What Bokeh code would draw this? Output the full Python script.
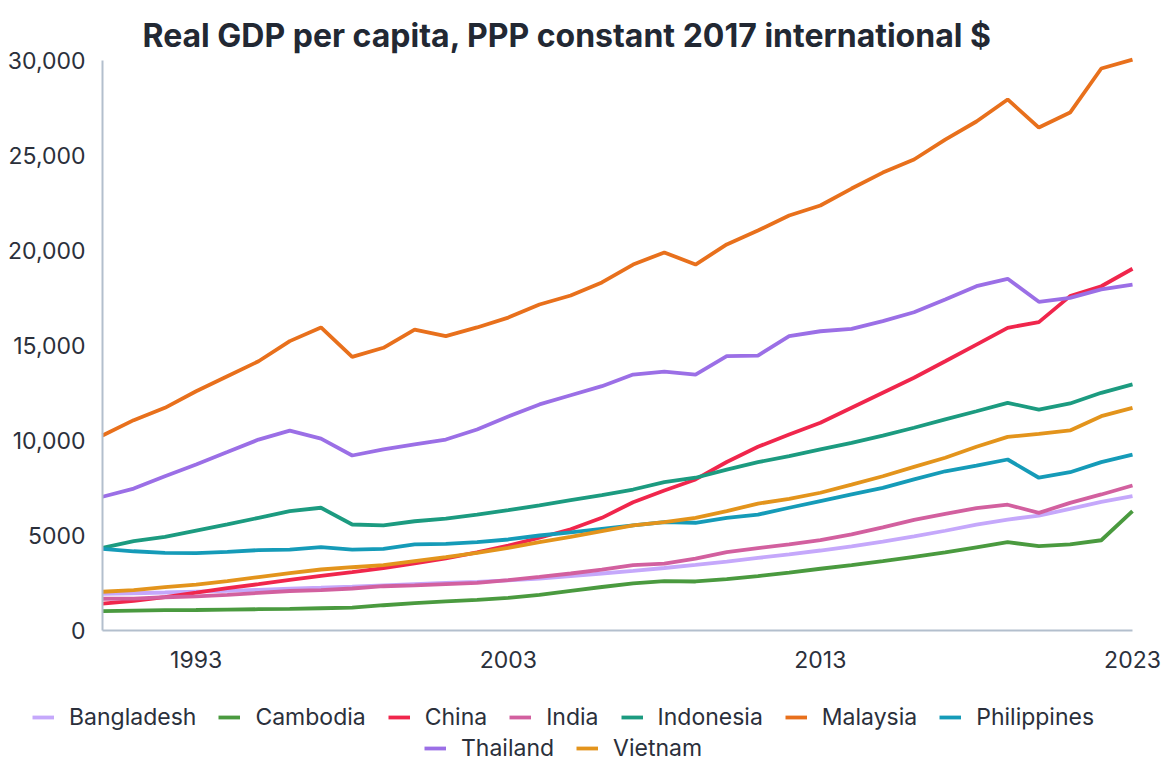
from bokeh.plotting import figure
from bokeh.models import Legend, LegendItem, FixedTicker, Range1d, Label
from bokeh.embed import file_html
from bokeh.resources import INLINE

years = [1990, 1991, 1992, 1993, 1994, 1995, 1996, 1997, 1998, 1999,
         2000, 2001, 2002, 2003, 2004, 2005, 2006, 2007, 2008, 2009,
         2010, 2011, 2012, 2013, 2014, 2015, 2016, 2017, 2018, 2019,
         2020, 2021, 2022, 2023]

bangladesh = [1930, 1960, 2000, 2050, 2090, 2140, 2200, 2250, 2310, 2380,
              2440, 2500, 2560, 2640, 2730, 2860, 3000, 3140, 3290, 3450,
              3620, 3820, 4010, 4210, 4430, 4680, 4960, 5250, 5570, 5840,
              6050, 6400, 6770, 7070]
cambodia = [1020, 1050, 1070, 1080, 1100, 1120, 1140, 1170, 1200, 1330,
            1440, 1530, 1610, 1720, 1870, 2090, 2290, 2480, 2600, 2580,
            2700, 2860, 3050, 3250, 3440, 3650, 3880, 4110, 4380, 4650,
            4440, 4530, 4750, 6280]
china = [1420, 1560, 1760, 1990, 2230, 2440, 2660, 2880, 3070, 3280,
         3530, 3800, 4110, 4470, 4880, 5330, 5930, 6750, 7370, 7950,
         8870, 9670, 10320, 10930, 11720, 12510, 13300, 14170, 15050, 15930,
         16230, 17600, 18120, 19040]
india = [1670, 1680, 1750, 1800, 1880, 1980, 2080, 2120, 2210, 2330,
         2370, 2440, 2510, 2650, 2820, 3000, 3200, 3440, 3520, 3780,
         4130, 4340, 4530, 4760, 5060, 5430, 5820, 6140, 6440, 6620,
         6190, 6720, 7160, 7630]
indonesia = [4350, 4700, 4930, 5260, 5580, 5930, 6280, 6460, 5580, 5530,
             5750, 5890, 6100, 6330, 6580, 6860, 7120, 7420, 7810, 8040,
             8470, 8860, 9180, 9530, 9880, 10260, 10670, 11110, 11540, 11980,
             11630, 11950, 12510, 12950]
malaysia = [10260, 11070, 11720, 12590, 13380, 14170, 15230, 15950, 14400, 14880,
            15840, 15490, 15950, 16470, 17160, 17630, 18320, 19260, 19900, 19260,
            20320, 21050, 21840, 22370, 23260, 24100, 24790, 25840, 26790, 27950,
            26470, 27260, 29580, 30050]
philippines = [4300, 4170, 4090, 4070, 4140, 4230, 4260, 4390, 4260, 4300,
               4530, 4560, 4650, 4790, 5000, 5170, 5350, 5530, 5700, 5670,
               5930, 6100, 6460, 6810, 7160, 7510, 7950, 8380, 8680, 9000,
               8040, 8330, 8860, 9260]
thailand = [7040, 7470, 8120, 8740, 9390, 10050, 10520, 10100, 9210, 9530,
            9790, 10050, 10580, 11260, 11900, 12380, 12860, 13470, 13630, 13470,
            14440, 14470, 15490, 15750, 15880, 16280, 16750, 17420, 18120, 18510,
            17300, 17510, 17950, 18210]
vietnam = [2040, 2120, 2280, 2420, 2600, 2810, 3020, 3210, 3330, 3440,
           3650, 3860, 4090, 4350, 4650, 4930, 5230, 5530, 5700, 5930,
           6280, 6680, 6930, 7250, 7680, 8120, 8610, 9090, 9670, 10190,
           10350, 10530, 11280, 11720]

countries = ["Bangladesh", "Cambodia", "China", "India", "Indonesia",
             "Malaysia", "Philippines", "Thailand", "Vietnam"]
series = [bangladesh, cambodia, china, india, indonesia,
          malaysia, philippines, thailand, vietnam]
colors = ["#c5a8fb", "#4a9a3f", "#f0264c", "#d2609f", "#1c9b80",
          "#e8701c", "#159bb8", "#9b6fe6", "#e3941c"]

y_ticks = [0, 5000, 10000, 15000, 20000, 25000, 30000]
y_tick_labels = ["0", "5000", "10,000", "15,000", "20,000", "25,000", "30,000"]
x_ticks = [1993, 2003, 2013, 2023]
title_text = "Real GDP per capita, PPP constant 2017 international $"

FONT = "Inter"
TXT = "#2b303b"
AX = "#b3bfcd"

# layout geometry (pixels)
W = 1165            # canvas width
TOP = 60            # room above the data area (title)
PLOT_L = 102        # left edge of the data area
PLOT_W = 1030       # width of the data area
PLOT_H = 570        # height of the data area
BOTTOM = 133        # room under the data area for tick labels and legend
H = TOP + PLOT_H + BOTTOM
X0, X1 = years[0], years[-1]
Y0, Y1 = 0, 30000
ppx = PLOT_W / (X1 - X0)
ppy = PLOT_H / (Y1 - Y0)

p = figure(frame_width=W, frame_height=H, output_backend="svg",
           toolbar_location=None,
           x_range=Range1d(X0 - PLOT_L / ppx, X0 + (W - PLOT_L) / ppx),
           y_range=Range1d(Y0 - BOTTOM / ppy, Y1 + TOP / ppy),
           min_border_left=0, min_border_right=0, min_border_top=0,
           min_border_bottom=0)
p.outline_line_color = None
p.background_fill_color = "white"
p.border_fill_color = "white"
p.xgrid.visible = False
p.ygrid.visible = False

p.add_layout(Label(x=PLOT_L + 40, y=H - 35, x_units="screen", y_units="screen",
                   text=title_text, text_font=FONT, text_font_size="32px",
                   text_font_style="bold", text_color="#222833",
                   text_align="left", text_baseline="alphabetic"))

renderers = []
for name, vals, col in zip(countries, series, colors):
    renderers.append(p.line(years, vals, line_color=col, line_width=3.8))

for ax in (p.xaxis[0], p.yaxis[0]):
    ax.axis_line_color = AX
    ax.axis_line_width = 2
    ax.major_tick_line_color = None
    ax.minor_tick_line_color = None
    ax.major_label_text_font = FONT
    ax.major_label_text_font_size = "23px"
    ax.major_label_text_color = TXT

p.yaxis[0].ticker = FixedTicker(ticks=y_ticks)
p.yaxis[0].major_label_overrides = {t: l for t, l in zip(y_ticks, y_tick_labels)}
p.yaxis[0].major_label_standoff = 11
p.yaxis[0].fixed_location = X0
p.yaxis[0].bounds = (Y0, Y1)
p.xaxis[0].ticker = FixedTicker(ticks=x_ticks)
p.xaxis[0].major_label_standoff = 14
p.xaxis[0].fixed_location = Y0
p.xaxis[0].bounds = (X0, X1)

def make_legend(idx, loc):
    items = [LegendItem(label=countries[i], renderers=[renderers[i]]) for i in idx]
    return Legend(items=items, orientation="horizontal", location=loc,
                  glyph_width=22, glyph_height=22, label_standoff=15, spacing=22,
                  padding=0, margin=0, border_line_color=None,
                  background_fill_alpha=0,
                  label_text_font=FONT, label_text_font_size="23px",
                  label_text_color=TXT, label_height=22)

p.add_layout(make_legend([0, 1, 2, 3, 4, 5, 6], (32, 32)))
p.add_layout(make_legend([7, 8], (424, 1)))

open("out.html", "w").write(file_html(p, INLINE))
